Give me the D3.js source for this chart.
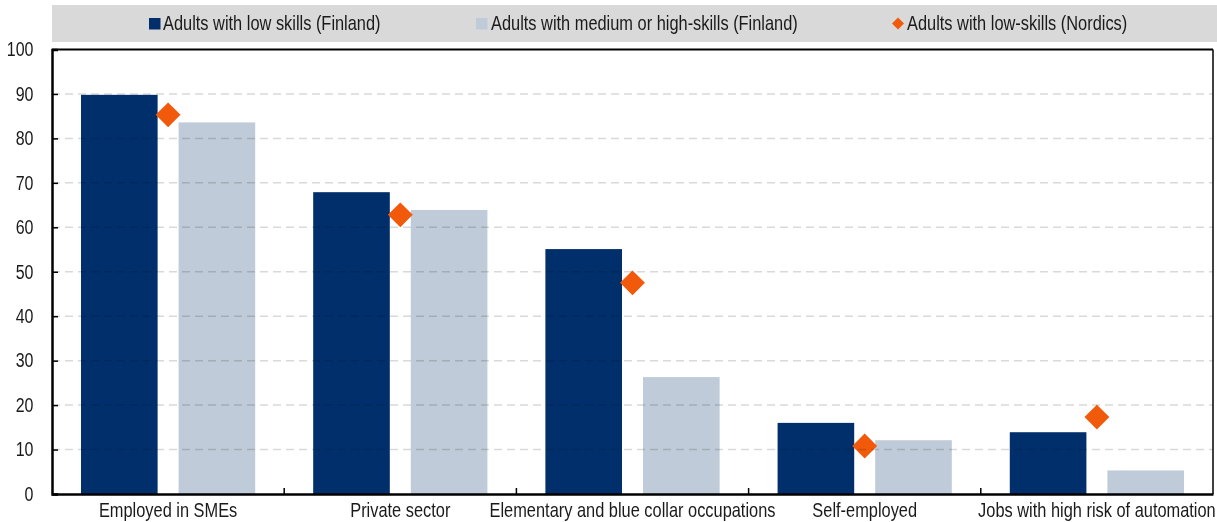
<!DOCTYPE html>
<html>
<head>
<meta charset="utf-8">
<script src="https://cdn.jsdelivr.net/npm/d3@7"></script>
<style>
  body { margin: 0; background: #fff; }
  svg { display: block; font-family: "Liberation Sans", Arial, sans-serif; }
</style>
</head>
<body>
<svg id="chart" width="1217" height="522"></svg>
<script>
// data
const categories = ["Employed in SMEs", "Private sector", "Elementary and blue collar occupations", "Self-employed", "Jobs with high risk of automation"];
const lowSkillsFinland = [89.8, 67.9, 55.1, 16.0, 13.9];
const medHighSkillsFinland = [83.6, 63.9, 26.3, 12.1, 5.3];
const lowSkillsNordics = [85.3, 62.8, 47.5, 10.8, 17.3];
const yTicks = [0, 10, 20, 30, 40, 50, 60, 70, 80, 90, 100];

const seriesNames = ["Adults with low skills (Finland)", "Adults with medium or high-skills (Finland)", "Adults with low-skills (Nordics)"];
const colors = ["#002F6C", "#C0CBD9", "#F25A0B"];

const width = 1217, height = 522;
const margin = { top: 49.5, right: 4, bottom: 28, left: 52 };
const narrow = 0.82; // squeeze Liberation Sans to look like Arial Narrow

const svg = d3.select("#chart");

const x = d3.scaleBand()
  .domain(categories)
  .range([margin.left, width - margin.right])
  .paddingInner(0).paddingOuter(0);

const xSub = d3.scaleBand()
  .domain(["low", "med"])
  .range([0, x.bandwidth()])
  .paddingInner(0.215)
  .paddingOuter(0.297);

const y = d3.scaleLinear()
  .domain([0, 100])
  .range([height - margin.bottom, margin.top]);

// legend box
svg.append("rect")
  .attr("x", 52).attr("y", 5)
  .attr("width", width - 52).attr("height", 37)
  .attr("fill", "#D9D9D9");

const legendItems = [
  { name: seriesNames[0], x: 149, tx: 163, type: "square", color: colors[0] },
  { name: seriesNames[1], x: 476, tx: 491, type: "square", color: colors[1] },
  { name: seriesNames[2], x: 892, tx: 907, type: "diamond", color: colors[2] }
];

legendItems.forEach(item => {
  if (item.type === "square") {
    svg.append("rect")
      .attr("x", item.x).attr("y", 18)
      .attr("width", 11.5).attr("height", 11.5)
      .attr("fill", item.color);
  } else {
    svg.append("path")
      .attr("d", d3.symbol(d3.symbolSquare, 72)())
      .attr("transform", `translate(${item.x + 6}, 23.5) rotate(45)`)
      .attr("fill", item.color);
  }
  svg.append("text")
    .attr("transform", `translate(${item.tx}, 30.3) scale(${narrow}, 1)`)
    .attr("font-size", 20)
    .attr("fill", "#1a1a1a")
    .text(item.name);
});

// bars
const rows = categories.map((c, i) => ({ cat: c, low: lowSkillsFinland[i], med: medHighSkillsFinland[i], nordic: lowSkillsNordics[i] }));

const groups = svg.append("g").selectAll("g")
  .data(rows)
  .enter()
  .append("g")
  .attr("transform", d => `translate(${x(d.cat)}, 0)`);

groups.append("rect")
  .attr("x", xSub("low"))
  .attr("width", xSub.bandwidth())
  .attr("y", d => y(d.low))
  .attr("height", d => y(0) - y(d.low))
  .attr("fill", colors[0]);

groups.append("rect")
  .attr("x", xSub("med"))
  .attr("width", xSub.bandwidth())
  .attr("y", d => y(d.med))
  .attr("height", d => y(0) - y(d.med))
  .attr("fill", colors[1]);

// gridlines (multiplied so they darken the light bars and vanish on the dark ones)
svg.append("g")
  .selectAll("line")
  .data(yTicks.filter(t => t > 0 && t < 100))
  .enter()
  .append("line")
  .attr("x1", margin.left).attr("x2", width - margin.right)
  .attr("y1", d => y(d)).attr("y2", d => y(d))
  .attr("stroke", "#D9D9D9")
  .attr("stroke-width", 1.5)
  .attr("stroke-dasharray", "8,5")
  .style("mix-blend-mode", "multiply");

// diamonds
groups.append("path")
  .attr("d", d3.symbol(d3.symbolSquare, 310)())
  .attr("transform", d => `translate(${x.bandwidth() / 2}, ${y(d.nordic)}) rotate(45)`)
  .attr("fill", colors[2]);

// frame: top and right
svg.append("line")
  .attr("x1", margin.left).attr("x2", width - margin.right)
  .attr("y1", y(100)).attr("y2", y(100))
  .attr("stroke", "#000").attr("stroke-width", 1.8);
svg.append("line")
  .attr("x1", width - margin.right).attr("x2", width - margin.right)
  .attr("y1", y(100)).attr("y2", y(0))
  .attr("stroke", "#000").attr("stroke-width", 1.5);

// y axis
const yAxis = svg.append("g")
  .attr("transform", `translate(${margin.left}, 0)`)
  .call(d3.axisLeft(y).tickValues(yTicks).tickSize(-6).tickPadding(18.5));
yAxis.select(".domain").attr("stroke", "#000").attr("stroke-width", 2.5);
yAxis.selectAll(".tick line").attr("stroke", "#000").attr("stroke-width", 1.5);
yAxis.selectAll(".tick text")
  .attr("x", -18.5 / narrow)
  .attr("transform", `scale(${narrow}, 1)`)
  .attr("font-size", 19.5)
  .attr("font-family", "Liberation Sans, Arial, sans-serif")
  .attr("fill", "#1a1a1a");

// x axis
const xAxis = svg.append("g")
  .attr("transform", `translate(0, ${y(0)})`)
  .call(d3.axisBottom(x).tickSize(0).tickPadding(9));
xAxis.select(".domain").attr("stroke", "#000").attr("stroke-width", 2.5);
xAxis.selectAll(".tick text")
  .attr("transform", `scale(${narrow}, 1)`)
  .attr("font-size", 20)
  .attr("font-family", "Liberation Sans, Arial, sans-serif")
  .attr("fill", "#1a1a1a");

// separators between categories
xAxis.append("g")
  .selectAll("line")
  .data(categories.slice(1))
  .enter()
  .append("line")
  .attr("x1", d => x(d)).attr("x2", d => x(d))
  .attr("y1", 0).attr("y2", -6)
  .attr("stroke", "#000").attr("stroke-width", 1.5);
</script>
</body>
</html>
